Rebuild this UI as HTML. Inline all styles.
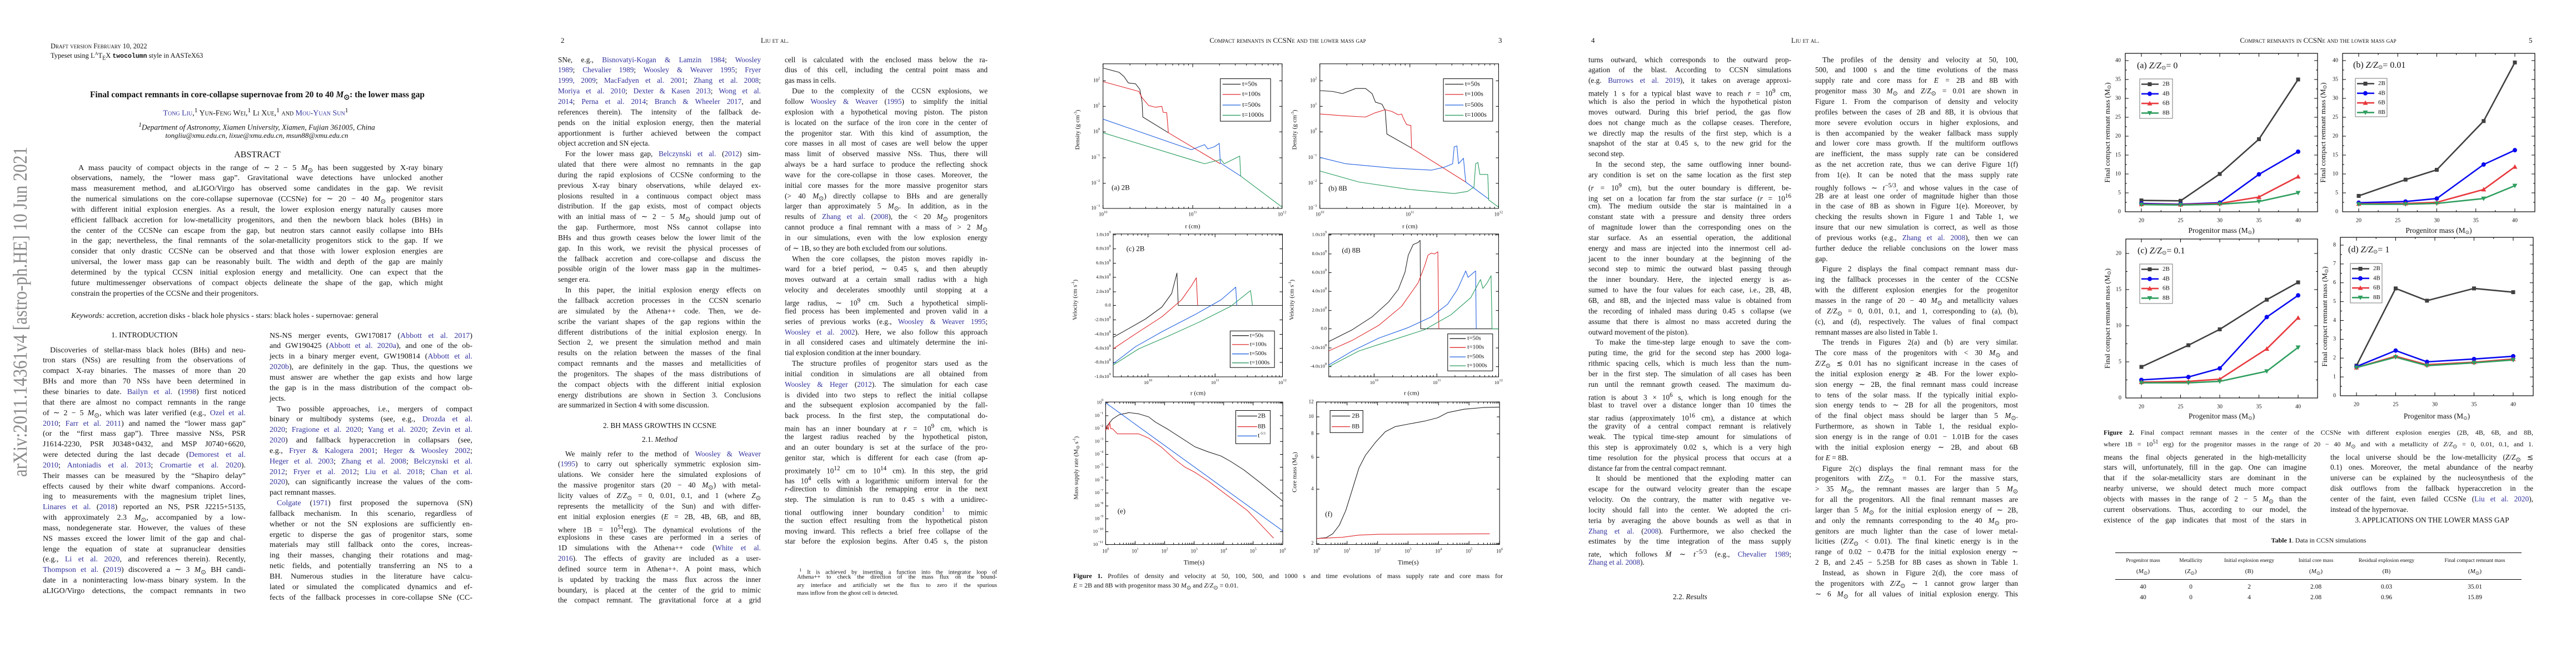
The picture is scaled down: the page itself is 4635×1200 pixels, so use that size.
<!DOCTYPE html>
<html><head><meta charset="utf-8">
<style>
body{margin:0;width:4635px;height:1200px;background:#fff;overflow:hidden;position:relative;font-family:"Liberation Serif",serif;color:#111}
.pg{position:absolute;top:0;width:927px;height:1200px;overflow:hidden}
.a{position:absolute;white-space:nowrap}
.c{position:absolute;white-space:nowrap;transform:translateX(-50%)}
.col{position:absolute;width:365px;font-size:13.3px;line-height:18.85px}
.col div{white-space:nowrap;text-align:justify;text-align-last:justify;height:18.85px}
.col div.l{text-align-last:left}
.col div.i{text-indent:13px}
.b{color:#33339e}
.sc{font-variant:small-caps}
svg{position:absolute;left:0;top:0}
svg text{font-family:"Liberation Serif",serif;fill:#111}
</style></head><body>

<!-- PAGE 1 -->
<div class="pg" style="left:0">
<svg width="80" height="1200"><text transform="translate(48,858) rotate(-90)" textLength="594" lengthAdjust="spacingAndGlyphs" font-size="36" style="fill:#8a8a8a">arXiv:2011.14361v4  [astro-ph.HE]  10 Jun 2021</text></svg>
<div class="a sc" style="left:91px;top:76px;font-size:12.5px">Draft version February 10, 2022</div>
<div class="a" style="left:91px;top:92px;font-size:12.5px">Typeset using L<sup style="font-size:8px">A</sup>T<sub style="font-size:10px">E</sub>X <b style="font-family:'Liberation Mono',monospace;font-size:11.5px">twocolumn</b> style in AASTeX63</div>
<div class="c" style="left:463px;top:162px;font-size:15.5px;font-weight:bold">Final compact remnants in core-collapse supernovae from 20 to 40 <i>M</i><sub>⊙</sub>: the lower mass gap</div>
<div class="c sc" style="left:460px;top:192px;font-size:14px"><span class="b">Tong Liu</span>,<sup>1</sup> Yun-Feng Wei,<sup>1</sup> Li Xue,<sup>1</sup> and <span class="b">Mou-Yuan Sun</span><sup>1</sup></div>
<div class="c" style="left:462px;top:219px;font-size:13.5px;font-style:italic"><sup>1</sup>Department of Astronomy, Xiamen University, Xiamen, Fujian 361005, China</div>
<div class="c" style="left:462px;top:236px;font-size:13px;font-style:italic">tongliu@xmu.edu.cn, lixue@xmu.edu.cn, msun88@xmu.edu.cn</div>
<div class="c" style="left:463px;top:270px;font-size:16px">ABSTRACT</div>
<div class="col" style="left:128px;top:293.5px;width:669px;font-size:14px">
<div class="i">A mass paucity of compact objects in the range of ∼ 2 − 5 <i>M</i><sub>⊙</sub> has been suggested by X-ray binary</div>
<div>observations, namely, the “lower mass gap”. Gravitational wave detections have unlocked another</div>
<div>mass measurement method, and aLIGO/Virgo has observed some candidates in the gap. We revisit</div>
<div>the numerical simulations on the core-collapse supernovae (CCSNe) for ∼ 20 − 40 <i>M</i><sub>⊙</sub> progenitor stars</div>
<div>with different initial explosion energies. As a result, the lower explosion energy naturally causes more</div>
<div>efficient fallback accretion for low-metallicity progenitors, and then the newborn black holes (BHs) in</div>
<div>the center of the CCSNe can escape from the gap, but neutron stars cannot easily collapse into BHs</div>
<div>in the gap; nevertheless, the final remnants of the solar-metallicity progenitors stick to the gap. If we</div>
<div>consider that only drastic CCSNe can be observed and that those with lower explosion energies are</div>
<div>universal, the lower mass gap can be reasonably built. The width and depth of the gap are mainly</div>
<div>determined by the typical CCSN initial explosion energy and metallicity. One can expect that the</div>
<div>future multimessenger observations of compact objects delineate the shape of the gap, which might</div>
<div class="l">constrain the properties of the CCSNe and their progenitors.</div>
</div>
<div class="a" style="left:128px;top:561px;font-size:14px"><i>Keywords:</i> accretion, accretion disks - black hole physics - stars: black holes - supernovae: general</div>
<div class="c" style="left:260px;top:596px;font-size:14px">1. INTRODUCTION</div>
<div class="col" style="left:77px;top:621.6px;font-size:14px">
<div class="i">Discoveries of stellar-mass black holes (BHs) and neu-</div>
<div>tron stars (NSs) are resulting from the observations of</div>
<div>compact X-ray binaries. The masses of more than 20</div>
<div>BHs and more than 70 NSs have been determined in</div>
<div>these binaries to date. <span class="b">Bailyn et al.</span> (<span class="b">1998</span>) first noticed</div>
<div>that there are almost no compact remnants in the range</div>
<div>of ∼ 2 − 5 <i>M</i><sub>⊙</sub>, which was later verified (e.g., <span class="b">Ozel et al.</span></div>
<div><span class="b">2010</span>; <span class="b">Farr et al. 2011</span>) and named the “lower mass gap”</div>
<div>(or the “first mass gap”). Three massive NSs, PSR</div>
<div>J1614-2230, PSR J0348+0432, and MSP J0740+6620,</div>
<div>were detected during the last decade (<span class="b">Demorest et al.</span></div>
<div><span class="b">2010</span>; <span class="b">Antoniadis et al. 2013</span>; <span class="b">Cromartie et al. 2020</span>).</div>
<div>Their masses can be measured by the “Shapiro delay”</div>
<div>effects caused by their white dwarf companions. Accord-</div>
<div>ing to measurements with the magnesium triplet lines,</div>
<div><span class="b">Linares et al.</span> (<span class="b">2018</span>) reported an NS, PSR J2215+5135,</div>
<div>with approximately 2.3 <i>M</i><sub>⊙</sub>, accompanied by a low-</div>
<div>mass, nondegenerate star. However, the values of these</div>
<div>NS masses exceed the lower limit of the gap and chal-</div>
<div>lenge the equation of state at supranuclear densities</div>
<div>(e.g., <span class="b">Li et al. 2020</span>, and references therein). Recently,</div>
<div><span class="b">Thompson et al.</span> (<span class="b">2019</span>) discovered a ∼ 3 <i>M</i><sub>⊙</sub> BH candi-</div>
<div>date in a noninteracting low-mass binary system. In the</div>
<div>aLIGO/Virgo detections, the compact remnants in two</div>
</div>
<div class="col" style="left:485px;top:595.6px;font-size:14px">
<div>NS-NS merger events, GW170817 (<span class="b">Abbott et al. 2017</span>)</div>
<div>and GW190425 (<span class="b">Abbott et al. 2020a</span>), and one of the ob-</div>
<div>jects in a binary merger event, GW190814 (<span class="b">Abbott et al.</span></div>
<div><span class="b">2020b</span>), are definitely in the gap. Thus, the questions we</div>
<div>must answer are whether the gap exists and how large</div>
<div>the gap is in the mass distribution of the compact ob-</div>
<div class="l">jects.</div>
<div class="i">Two possible approaches, i.e., mergers of compact</div>
<div>binary or multibody systems (see, e.g., <span class="b">Drozda et al.</span></div>
<div><span class="b">2020</span>; <span class="b">Fragione et al. 2020</span>; <span class="b">Yang et al. 2020</span>; <span class="b">Zevin et al.</span></div>
<div><span class="b">2020</span>) and fallback hyperaccretion in collapsars (see,</div>
<div>e.g., <span class="b">Fryer &amp; Kalogera 2001</span>; <span class="b">Heger &amp; Woosley 2002</span>;</div>
<div><span class="b">Heger et al. 2003</span>; <span class="b">Zhang et al. 2008</span>; <span class="b">Belczynski et al.</span></div>
<div><span class="b">2012</span>; <span class="b">Fryer et al. 2012</span>; <span class="b">Liu et al. 2018</span>; <span class="b">Chan et al.</span></div>
<div><span class="b">2020</span>), can significantly increase the values of the com-</div>
<div class="l">pact remnant masses.</div>
<div class="i"><span class="b">Colgate</span> (<span class="b">1971</span>) first proposed the supernova (SN)</div>
<div>fallback mechanism. In this scenario, regardless of</div>
<div>whether or not the SN explosions are sufficiently en-</div>
<div>ergetic to disperse the gas of progenitor stars, some</div>
<div>materials may still fallback onto the cores, increas-</div>
<div>ing their masses, changing their rotations and mag-</div>
<div>netic fields, and potentially transferring an NS to a</div>
<div>BH. Numerous studies in the literature have calcu-</div>
<div>lated or simulated the complicated dynamics and ef-</div>
<div>fects of the fallback processes in core-collapse SNe (CC-</div>
</div>
</div>

<!-- PAGE 2 -->
<div class="pg" style="left:927px">
<div class="a" style="left:82px;top:65px;font-size:13px">2</div>
<div class="c sc" style="left:467px;top:65px;font-size:13px">Liu et al.</div>
<div class="col" style="left:77px;top:98.6px">
<div>SNe, e.g., <span class="b">Bisnovatyi-Kogan &amp; Lamzin 1984</span>; <span class="b">Woosley</span></div>
<div><span class="b">1989</span>; <span class="b">Chevalier 1989</span>; <span class="b">Woosley &amp; Weaver 1995</span>; <span class="b">Fryer</span></div>
<div><span class="b">1999, 2009</span>; <span class="b">MacFadyen et al. 2001</span>; <span class="b">Zhang et al. 2008</span>;</div>
<div><span class="b">Moriya et al. 2010</span>; <span class="b">Dexter &amp; Kasen 2013</span>; <span class="b">Wong et al.</span></div>
<div><span class="b">2014</span>; <span class="b">Perna et al. 2014</span>; <span class="b">Branch &amp; Wheeler 2017</span>, and</div>
<div>references therein). The intensity of the fallback de-</div>
<div>pends on the initial explosion energy, then the material</div>
<div>apportionment is further achieved between the compact</div>
<div class="l">object accretion and SN ejecta.</div>
<div class="i">For the lower mass gap, <span class="b">Belczynski et al.</span> (<span class="b">2012</span>) sim-</div>
<div>ulated that there were almost no remnants in the gap</div>
<div>during the rapid explosions of CCSNe conforming to the</div>
<div>previous X-ray binary observations, while delayed ex-</div>
<div>plosions resulted in a continuous compact object mass</div>
<div>distribution. If the gap exists, most of compact objects</div>
<div>with an initial mass of ∼ 2 − 5 <i>M</i><sub>⊙</sub> should jump out of</div>
<div>the gap. Furthermore, most NSs cannot collapse into</div>
<div>BHs and thus growth ceases below the lower limit of the</div>
<div>gap. In this work, we revisit the physical processes of</div>
<div>the fallback accretion and core-collapse and discuss the</div>
<div>possible origin of the lower mass gap in the multimes-</div>
<div class="l">senger era.</div>
<div class="i">In this paper, the initial explosion energy effects on</div>
<div>the fallback accretion processes in the CCSN scenario</div>
<div>are simulated by the Athena++ code. Then, we de-</div>
<div>scribe the variant shapes of the gap regions within the</div>
<div>different distributions of the initial explosion energy. In</div>
<div>Section 2, we present the simulation method and main</div>
<div>results on the relation between the masses of the final</div>
<div>compact remnants and the masses and metallicities of</div>
<div>the progenitors. The shapes of the mass distributions of</div>
<div>the compact objects with the different initial explosion</div>
<div>energy distributions are shown in Section 3. Conclusions</div>
<div class="l">are summarized in Section 4 with some discussion.</div>
</div>
<div class="c" style="left:260px;top:758px;font-size:13.3px">2. BH MASS GROWTHS IN CCSNE</div>
<div class="c" style="left:260px;top:783px;font-size:13.3px">2.1. <i>Method</i></div>
<div class="col" style="left:77px;top:807.6px">
<div class="i">We mainly refer to the method of <span class="b">Woosley &amp; Weaver</span></div>
<div>(<span class="b">1995</span>) to carry out spherically symmetric explosion sim-</div>
<div>ulations. We consider here the simulated explosions of</div>
<div>the massive progenitor stars (20 − 40 <i>M</i><sub>⊙</sub>) with metal-</div>
<div>licity values of <i>Z</i>/<i>Z</i><sub>⊙</sub> = 0, 0.01, 0.1, and 1 (where <i>Z</i><sub>⊙</sub></div>
<div>represents the metallicity of the Sun) and with differ-</div>
<div>ent initial explosion energies (<i>E</i> = 2B, 4B, 6B, and 8B,</div>
<div>where 1B = 10<sup>51</sup>erg). The dynamical evolutions of the</div>
<div>explosions in these cases are performed in a series of</div>
<div>1D simulations with the Athena++ code (<span class="b">White et al.</span></div>
<div><span class="b">2016</span>). The effects of gravity are included as a user-</div>
<div>defined source term in Athena++. A point mass, which</div>
<div>is updated by tracking the mass flux across the inner</div>
<div>boundary, is placed at the center of the grid to mimic</div>
<div>the compact remnant. The gravitational force at a grid</div>
</div>
<div class="col" style="left:485px;top:98.6px">
<div>cell is calculated with the enclosed mass below the ra-</div>
<div>dius of this cell, including the central point mass and</div>
<div class="l">gas mass in cells.</div>
<div class="i">Due to the complexity of the CCSN explosions, we</div>
<div>follow <span class="b">Woosley &amp; Weaver</span> (<span class="b">1995</span>) to simplify the initial</div>
<div>explosion with a hypothetical moving piston. The piston</div>
<div>is located on the surface of the iron core in the center of</div>
<div>the progenitor star. With this kind of assumption, the</div>
<div>core masses in all most of cases are well below the upper</div>
<div>mass limit of observed massive NSs. Thus, there will</div>
<div>always be a hard surface to produce the reflecting shock</div>
<div>wave for the core-collapse in those cases. Moreover, the</div>
<div>initial core masses for the more massive progenitor stars</div>
<div>(&gt; 40 <i>M</i><sub>⊙</sub>) directly collapse to BHs and are generally</div>
<div>larger than approximately 5 <i>M</i><sub>⊙</sub>. In addition, as in the</div>
<div>results of <span class="b">Zhang et al.</span> (<span class="b">2008</span>), the &lt; 20 <i>M</i><sub>⊙</sub> progenitors</div>
<div>cannot produce a final remnant with a mass of &gt; 2 <i>M</i><sub>⊙</sub></div>
<div>in our simulations, even with the low explosion energy</div>
<div class="l">of ∼ 1B, so they are both excluded from our solutions.</div>
<div class="i">When the core collapses, the piston moves rapidly in-</div>
<div>ward for a brief period, ∼ 0.45 s, and then abruptly</div>
<div>moves outward at a certain small radius with a high</div>
<div>velocity and decelerates smoothly until stopping at a</div>
<div>large radius, ∼ 10<sup>9</sup> cm. Such a hypothetical simpli-</div>
<div>fied process has been implemented and proven valid in a</div>
<div>series of previous works (e.g., <span class="b">Woosley &amp; Weaver 1995</span>;</div>
<div><span class="b">Woosley et al. 2002</span>). Here, we also follow this approach</div>
<div>in all considered cases and ultimately determine the ini-</div>
<div class="l">tial explosion condition at the inner boundary.</div>
<div class="i">The structure profiles of progenitor stars used as the</div>
<div>initial condition in simulations are all obtained from</div>
<div><span class="b">Woosley &amp; Heger</span> (<span class="b">2012</span>). The simulation for each case</div>
<div>is divided into two steps to reflect the initial collapse</div>
<div>and the subsequent explosion accompanied by the fall-</div>
<div>back process. In the first step, the computational do-</div>
<div>main has an inner boundary at <i>r</i> = 10<sup>9</sup> cm, which is</div>
<div>the largest radius reached by the hypothetical piston,</div>
<div>and an outer boundary is set at the surface of the pro-</div>
<div>genitor star, which is different for each case (from ap-</div>
<div>proximately 10<sup>12</sup> cm to 10<sup>14</sup> cm). In this step, the grid</div>
<div>has 10<sup>4</sup> cells with a logarithmic uniform interval for the</div>
<div><i>r</i>-direction to diminish the remapping error in the next</div>
<div>step. The simulation is run to 0.45 s with a unidirec-</div>
<div>tional outflowing inner boundary condition<sup class="b">1</sup> to mimic</div>
<div>the suction effect resulting from the hypothetical piston</div>
<div>moving inward. This reflects a brief free collapse of the</div>
<div>star before the explosion begins. After 0.45 s, the piston</div>
</div>
<div class="col" style="left:498px;top:1018px;width:369px;font-size:10.5px;line-height:14.3px">
<div class="i" style="height:14.3px"><sup>1</sup> It is achieved by inserting a function into the integrator loop of</div>
<div style="height:14.3px;padding-left:9px">Athena++ to check the direction of the mass flux on the bound-</div>
<div style="height:14.3px;padding-left:9px">ary interface and artificially set the flux to zero if the spurious</div>
<div class="l" style="height:14.3px;padding-left:9px">mass inflow from the ghost cell is detected.</div>
</div>
</div>

<!-- PAGE 3 -->
<div class="pg" style="left:1854px">
<div class="c sc" style="left:463px;top:65px;font-size:13px">Compact remnants in CCSNe and the lower mass gap</div>
<div class="a" style="left:842px;top:65px;font-size:13px">3</div>
<svg id="f3" width="927" height="1200"></svg>
<div class="col" style="left:77px;top:1028px;width:773px;font-size:12px;line-height:17px">
<div style="height:17px"><b>Figure 1.</b> Profiles of density and velocity at 50, 100, 500, and 1000 s and time evolutions of mass supply rate and core mass for</div>
<div class="l" style="height:17px"><i>E</i> = 2B and 8B with progenitor mass 30 <i>M</i><sub>⊙</sub> and <i>Z</i>/<i>Z</i><sub>⊙</sub> = 0.01.</div>
</div>
</div>

<!-- PAGE 4 -->
<div class="pg" style="left:2781px">
<div class="a" style="left:82px;top:65px;font-size:13px">4</div>
<div class="c sc" style="left:467px;top:65px;font-size:13px">Liu et al.</div>
<div class="col" style="left:77px;top:98.6px">
<div>turns outward, which corresponds to the outward prop-</div>
<div>agation of the blast. According to CCSN simulations</div>
<div>(e.g. <span class="b">Burrows et al. 2019</span>), it takes on average approxi-</div>
<div>mately 1 s for a typical blast wave to reach <i>r</i> = 10<sup>9</sup> cm,</div>
<div>which is also the period in which the hypothetical piston</div>
<div>moves outward. During this brief period, the gas flow</div>
<div>does not change much as the collapse ceases. Therefore,</div>
<div>we directly map the results of the first step, which is a</div>
<div>snapshot of the star at 0.45 s, to the new grid for the</div>
<div class="l">second step.</div>
<div class="i">In the second step, the same outflowing inner bound-</div>
<div>ary condition is set on the same location as the first step</div>
<div>(<i>r</i> = 10<sup>9</sup> cm), but the outer boundary is different, be-</div>
<div>ing set on a location far from the star surface (<i>r</i> = 10<sup>16</sup></div>
<div>cm). The medium outside the star is maintained in a</div>
<div>constant state with a pressure and density three orders</div>
<div>of magnitude lower than the corresponding ones on the</div>
<div>star surface. As an essential operation, the additional</div>
<div>energy and mass are injected into the innermost cell ad-</div>
<div>jacent to the inner boundary at the beginning of the</div>
<div>second step to mimic the outward blast passing through</div>
<div>the inner boundary. Here, the injected energy is as-</div>
<div>sumed to have the four values for each case, i.e., 2B, 4B,</div>
<div>6B, and 8B, and the injected mass value is obtained from</div>
<div>the recording of inhaled mass during 0.45 s collapse (we</div>
<div>assume that there is almost no mass accreted during the</div>
<div class="l">outward movement of the piston).</div>
<div class="i">To make the time-step large enough to save the com-</div>
<div>puting time, the grid for the second step has 2000 loga-</div>
<div>rithmic spacing cells, which is much less than the num-</div>
<div>ber in the first step. The simulation of all cases has been</div>
<div>run until the remnant growth ceased. The maximum du-</div>
<div>ration is about 3 × 10<sup>6</sup> s, which is long enough for the</div>
<div>blast to travel over a distance longer than 10 times the</div>
<div>star radius (approximately 10<sup>16</sup> cm), a distance at which</div>
<div>the gravity of a central compact remnant is relatively</div>
<div>weak. The typical time-step amount for simulations of</div>
<div>this step is approximately 0.02 s, which is a very high</div>
<div>time resolution for the physical process that occurs at a</div>
<div class="l">distance far from the central compact remnant.</div>
<div class="i">It should be mentioned that the exploding matter can</div>
<div>escape for the outward velocity greater than the escape</div>
<div>velocity. On the contrary, the matter with negative ve-</div>
<div>locity should fall into the center. We adopted the cri-</div>
<div>teria by averaging the above bounds as well as that in</div>
<div><span class="b">Zhang et al.</span> (<span class="b">2008</span>). Furthermore, we also checked the</div>
<div>estimates by the time integration of the mass supply</div>
<div>rate, which follows <i>Ṁ</i> ∼ <i>t</i><sup>−5/3</sup> (e.g., <span class="b">Chevalier 1989</span>;</div>
<div class="l"><span class="b">Zhang et al. 2008</span>).</div>
</div>
<div class="c" style="left:260px;top:1066px;font-size:13.3px">2.2. <i>Results</i></div>
<div class="col" style="left:485px;top:98.6px">
<div class="i">The profiles of the density and velocity at 50, 100,</div>
<div>500, and 1000 s and the time evolutions of the mass</div>
<div>supply rate and core mass for <i>E</i> = 2B and 8B with</div>
<div>progenitor mass 30 <i>M</i><sub>⊙</sub> and <i>Z</i>/<i>Z</i><sub>⊙</sub> = 0.01 are shown in</div>
<div>Figure 1. From the comparison of density and velocity</div>
<div>profiles between the cases of 2B and 8B, it is obvious that</div>
<div>more severe evolution occurs in higher explosions, and</div>
<div>is then accompanied by the weaker fallback mass supply</div>
<div>and lower core mass growth. If the multiform outflows</div>
<div>are inefficient, the mass supply rate can be considered</div>
<div>as the net accretion rate, thus we can derive Figure 1(f)</div>
<div>from 1(e). It can be noted that the mass supply rate</div>
<div>roughly follows ∼ <i>t</i><sup>−5/3</sup>, and whose values in the case of</div>
<div>2B are at least one order of magnitude higher than those</div>
<div>in the case of 8B as shown in Figure 1(e). Moreover, by</div>
<div>checking the results shown in Figure 1 and Table 1, we</div>
<div>insure that our new simulation is correct, as well as those</div>
<div>of previous works (e.g., <span class="b">Zhang et al. 2008</span>), then we can</div>
<div>further deduce the reliable conclusions on the lower mass</div>
<div class="l">gap.</div>
<div class="i">Figure 2 displays the final compact remnant mass dur-</div>
<div>ing the fallback processes in the center of the CCSNe</div>
<div>with the different explosion energies for the progenitor</div>
<div>masses in the range of 20 − 40 <i>M</i><sub>⊙</sub> and metallicity values</div>
<div>of <i>Z</i>/<i>Z</i><sub>⊙</sub> = 0, 0.01, 0.1, and 1, corresponding to (a), (b),</div>
<div>(c), and (d), respectively. The values of final compact</div>
<div class="l">remnant masses are also listed in Table 1.</div>
<div class="i">The trends in Figures 2(a) and (b) are very similar.</div>
<div>The core mass of the progenitors with &lt; 30 <i>M</i><sub>⊙</sub> and</div>
<div><i>Z</i>/<i>Z</i><sub>⊙</sub> ≲ 0.01 has no significant increase in the cases of</div>
<div>the initial explosion energy ≳ 4B. For the lower explo-</div>
<div>sion energy ∼ 2B, the final remnant mass could increase</div>
<div>to tens of the solar mass. If the typically initial explo-</div>
<div>sion energy tends to ∼ 2B for all the progenitors, most</div>
<div>of the final object mass should be larger than 5 <i>M</i><sub>⊙</sub>.</div>
<div>Furthermore, as shown in Table 1, the residual explo-</div>
<div>sion energy is in the range of 0.01 − 1.01B for the cases</div>
<div>with the initial explosion energy ∼ 2B, and about 6B</div>
<div class="l">for <i>E</i> = 8B.</div>
<div class="i">Figure 2(c) displays the final remnant mass for the</div>
<div>progenitors with <i>Z</i>/<i>Z</i><sub>⊙</sub> = 0.1. For the massive stars,</div>
<div>&gt; 35 <i>M</i><sub>⊙</sub>, the remnant masses are larger than 5 <i>M</i><sub>⊙</sub></div>
<div>for all the progenitors. All the final remnant masses are</div>
<div>larger than 5 <i>M</i><sub>⊙</sub> for the initial explosion energy of ∼ 2B,</div>
<div>and only the remnants corresponding to the 40 <i>M</i><sub>⊙</sub> pro-</div>
<div>genitors are much lighter than the case of lower metal-</div>
<div>licities (<i>Z</i>/<i>Z</i><sub>⊙</sub> &lt; 0.01). The final kinetic energy is in the</div>
<div>range of 0.02 − 0.47B for the initial explosion energy ∼</div>
<div>2 B, and 2.45 − 5.25B for 8B cases as shown in Table 1.</div>
<div class="i">Instead, as shown in Figure 2(d), the core mass of</div>
<div>the progenitors with <i>Z</i>/<i>Z</i><sub>⊙</sub> ∼ 1 cannot grow larger than</div>
<div>∼ 6 <i>M</i><sub>⊙</sub> for all values of initial explosion energy. This</div>
</div>
</div>

<!-- PAGE 5 -->
<div class="pg" style="left:3708px">
<div class="c sc" style="left:463px;top:65px;font-size:13px">Compact remnants in CCSNe and the lower mass gap</div>
<div class="a" style="left:842px;top:65px;font-size:13px">5</div>
<svg id="f5" width="927" height="1200"></svg>
<div class="col" style="left:77px;top:770px;width:773px;font-size:12px;line-height:17px">
<div style="height:17px"><b>Figure 2.</b> Final compact remnant masses in the center of the CCSNe with different explosion energies (2B, 4B, 6B, and 8B,</div>
<div style="height:17px">where 1B = 10<sup>51</sup> erg) for the progenitor masses in the range of 20 − 40 <i>M</i><sub>⊙</sub> and with a metallicity of <i>Z</i>/<i>Z</i><sub>⊙</sub> = 0, 0.01, 0.1, and 1.</div>
</div>
<div class="col" style="left:77px;top:813.6px">
<div>means the final objects generated in the high-metallicity</div>
<div>stars will, unfortunately, fill in the gap. One can imagine</div>
<div>that if the solar-metallicity stars are dominant in the</div>
<div>nearby universe, we should detect much more compact</div>
<div>objects with masses in the range of 2 − 5 <i>M</i><sub>⊙</sub> than the</div>
<div>current observations. Thus, according to our model, the</div>
<div>existence of the gap indicates that most of the stars in</div>
</div>
<div class="col" style="left:485px;top:813.6px">
<div>the local universe should be the low-metallicity (<i>Z</i>/<i>Z</i><sub>⊙</sub> ≲</div>
<div>0.1) ones. Moreover, the metal abundance of the nearby</div>
<div>universe can be explained by the nucleosynthesis of the</div>
<div>disk outflows from the fallback hyperaccretion in the</div>
<div>center of the faint, even failed CCSNe (<span class="b">Liu et al. 2020</span>),</div>
<div class="l">instead of the hypernovae.</div>
</div>
<div class="c" style="left:668px;top:928px;font-size:13.3px">3. APPLICATIONS ON THE LOWER MASS GAP</div>
<div class="c" style="left:464px;top:965px;font-size:12px"><b>Table 1</b>. Data in CCSN simulations</div>
<div class="a" style="left:98px;top:994px;width:731px;border-top:1.3px solid #000"></div>
<div class="a" style="left:98px;top:1042px;width:731px;border-top:1px solid #000"></div>
<div id="tbl"></div>
</div>

<script>
(function(){
const S=x=>x/1.6915, T=y=>y/1.3067;
let s='';
function box(x1,y1,x2,y2){s+=`<rect x="${S(x1).toFixed(1)}" y="${T(y1).toFixed(1)}" width="${(S(x2)-S(x1)).toFixed(1)}" height="${(T(y2)-T(y1)).toFixed(1)}" fill="none" stroke="#000" stroke-width="1"/>`;}
function line(a,c,w){let p=[];for(let i=0;i<a.length;i+=2)p.push(S(a[i]).toFixed(1)+','+T(a[i+1]).toFixed(1));s+=`<polyline points="${p.join(' ')}" fill="none" stroke="${c}" stroke-width="${w||1.1}" stroke-linejoin="round"/>`;}
function tx(x,y,t,size,anchor,extra){s+=`<text x="${S(x).toFixed(1)}" y="${T(y).toFixed(1)}" font-size="${size}" text-anchor="${anchor||'start'}" dominant-baseline="middle" ${extra||''}>${t}</text>`;}
function rot(x,y,t,size){s+=`<text transform="translate(${S(x).toFixed(1)},${T(y).toFixed(1)}) rotate(-90)" font-size="${size}" text-anchor="middle" dominant-baseline="middle">${t}</text>`;}
function sup(b,e){return b+`<tspan dy="-4" font-size="6.5">${e}</tspan>`;}
function ticksY(x1,x2,ys){ys.forEach(y=>{s+=`<line x1="${S(x1)}" y1="${T(y)}" x2="${S(x1)+5}" y2="${T(y)}" stroke="#000"/><line x1="${S(x2)}" y1="${T(y)}" x2="${S(x2)-5}" y2="${T(y)}" stroke="#000"/>`;});}
function ticksX(y1,y2,xs,l){l=l||5;xs.forEach(x=>{s+=`<line x1="${S(x)}" y1="${T(y2)}" x2="${S(x)}" y2="${T(y2)-l}" stroke="#000"/><line x1="${S(x)}" y1="${T(y1)}" x2="${S(x)}" y2="${T(y1)+l}" stroke="#000"/>`;});}
function logminor(a,b,dec){let r=[];const w=(b-a)/dec;for(let d=0;d<dec;d++)for(let k=2;k<10;k++)r.push(a+w*(d+Math.log10(k)));return r;}
function legend(x1,y1,x2,y2,ent,lx1,lx2,txx,fs){box(x1,y1,x2,y2);ent.forEach(e=>{line([lx1,e[2],lx2,e[2]],e[1],1.3);tx(txx,e[2],e[0],fs||12);});}
const K='#222',R='#e0262a',B='#1f5fe0',G='#249a5a';
// (a)
box(221,150,766,490);
ticksY(221,766,[190,250,310,371,431,490]);ticksX(150,490,[221,494,766],6);ticksX(150,490,logminor(221,766,2),3);
line([221,160,270,170,285,180,298,195,320,197,333,210,340,240,342,275,420,312],K);
line([221,192,330,215,340,230,360,248,380,252,400,250,404,264,415,265,420,312,578,385],R);
line([221,280,490,352,530,340,540,350,560,345,575,337,578,383,640,414],B);
line([221,312,530,385,580,375,590,385,637,367,640,414,766,487],G);
legend(578,185,731,285,[['t=50s',K,198],['t=100s',R,222],['t=500s',B,247],['t=1000s',G,271]],585,640,645,12);
[['2',190],['1',250],['0',310],['−1',371],['−2',431],['−3',490]].forEach(v=>tx(212,v[1],sup('10',v[0]),9,'end'));
[[221,'10'],[494,'11'],[766,'12']].forEach(v=>tx(v[0],505,sup('10',v[1]),9,'middle'));
tx(494,533,'r (cm)',11,'middle');rot(145,305,'Density (g cm<tspan dy="-4" font-size="7">-3</tspan><tspan dy="4">)</tspan>',11);
tx(247,442,'(a) 2B',13);
// (b)
box(881,150,1425,490);
ticksY(881,1425,[190,250,310,371,431,490]);ticksX(150,490,[881,1155,1425],6);ticksX(150,490,logminor(881,1425,2),3);
line([881,213,920,215,950,220,990,208,1020,208,1040,220,1050,240,1070,245,1080,260,1085,315,1160,348],K);
line([881,268,950,272,1020,275,1050,265,1080,258,1100,262,1120,270,1130,268,1135,278,1145,293,1158,295,1160,348,1325,428],R);
line([881,370,960,385,1100,395,1220,400,1260,393,1285,385,1290,345,1298,343,1303,385,1318,372,1325,428,1395,468],B);
line([881,402,1000,428,1150,445,1290,455,1330,450,1350,440,1355,385,1362,382,1368,410,1392,410,1395,470,1425,487],G);
legend(1257,185,1407,285,[['t=50s',K,198],['t=100s',R,222],['t=500s',B,247],['t=1000s',G,271]],1262,1318,1323,12);
[['2',190],['1',250],['0',310],['−1',371],['−2',431],['−3',490]].forEach(v=>tx(872,v[1],sup('10',v[0]),9,'end'));
[[881,'10'],[1155,'11'],[1425,'12']].forEach(v=>tx(v[0],505,sup('10',v[1]),9,'middle'));
tx(1155,533,'r (cm)',11,'middle');rot(805,305,'Density (g cm<tspan dy="-4" font-size="7">-3</tspan><tspan dy="4">)</tspan>',11);
tx(907,444,'(b) 8B',13);
// (c)
box(252,550,767,886);
const cy=[552,585,619,652,686,718,752,786,819,852,886];
ticksY(252,767,cy);ticksX(550,886,[358,562,767],6);ticksX(550,886,logminor(154,767,3).filter(x=>x>252),3);
line([252,793,300,772,350,750,400,722,430,690,440,660,446,642,450,718,767,718],K);
line([252,820,320,785,400,745,460,705,490,672,505,653,509,718],R);
line([252,855,320,815,400,780,500,740,580,705,625,675,628,718],B);
line([252,858,330,820,420,790,520,755,610,720,670,683,676,718],G);
legend(608,778,743,864,[['t=50s',K,789],['t=100s',R,810],['t=500s',B,832],['t=1000s',G,853]],614,665,668,11);
const cl=['1.0x10<tspan dy="-4" font-size="6.5">9</tspan>','8.0x10<tspan dy="-4" font-size="6.5">8</tspan>','6.0x10<tspan dy="-4" font-size="6.5">8</tspan>','4.0x10<tspan dy="-4" font-size="6.5">8</tspan>','2.0x10<tspan dy="-4" font-size="6.5">8</tspan>','0.0','-2.0x10<tspan dy="-4" font-size="6.5">8</tspan>','-4.0x10<tspan dy="-4" font-size="6.5">8</tspan>','-6.0x10<tspan dy="-4" font-size="6.5">8</tspan>','-8.0x10<tspan dy="-4" font-size="6.5">8</tspan>','-1.0x10<tspan dy="-4" font-size="6.5">9</tspan>'];
cy.forEach((y,i)=>tx(245,y,cl[i],8.5,'end'));
[[358,'10'],[562,'11'],[767,'12']].forEach(v=>tx(v[0],900,sup('10',v[1]),8.5,'middle'));
tx(510,925,'r (cm)',11,'middle');rot(137,705,'Velocity (cm s<tspan dy="-4" font-size="7">-1</tspan><tspan dy="4">)</tspan>',11);
tx(292,586,'(c) 2B',13);
// (d)
box(908,550,1425,886);
const dy=[552,597,641,685,730,773,818,862];
ticksY(908,1425,dy);ticksX(550,886,[1046,1237,1425],6);ticksX(550,886,logminor(855,1425,3).filter(x=>x>908),3);
line([908,803,980,775,1040,745,1090,710,1120,680,1140,640,1150,600,1165,575,1180,570,1186,565,1188,773,1425,773],K);
line([908,825,980,800,1060,765,1130,720,1180,665,1200,625,1210,600,1220,595,1230,597,1240,592,1243,773],R);
line([908,858,980,825,1060,795,1150,770,1220,745,1270,715,1300,680,1325,637,1332,652,1350,640,1355,637,1357,773],B);
line([908,862,1000,825,1100,800,1200,775,1280,740,1340,700,1370,657,1377,678,1390,665,1402,648,1405,773,1425,773],G);
legend(1270,785,1407,872,[['t=50s',K,796],['t=100s',R,817],['t=500s',B,839],['t=1000s',G,860]],1276,1325,1330,11);
const dl=[cl[0],cl[1],cl[2],cl[3],cl[4],cl[5],cl[6],cl[7]];
dy.forEach((y,i)=>tx(902,y,dl[i],8.5,'end'));
[[1046,'10'],[1237,'11'],[1425,'12']].forEach(v=>tx(v[0],900,sup('10',v[1]),8.5,'middle'));
tx(1160,925,'r (cm)',11,'middle');rot(797,705,'Velocity (cm s<tspan dy="-4" font-size="7">-1</tspan><tspan dy="4">)</tspan>',11);
tx(948,590,'(d) 8B',13);
// (e)
box(229,945,768,1280);
let ey=[];for(let i=0;i<12;i++)ey.push(947+i*30.3);
ticksY(229,768,ey);let ex=[];for(let i=0;i<7;i++)ex.push(229+i*89.8);ticksX(945,1280,ex,6);ticksX(945,1280,logminor(229,768,6),3);
line([229,1012,235,1000,250,985,270,975,300,970,330,973,360,980,380,992,420,1010,460,1030,500,1050,540,1062,580,1072,610,1085,650,1105,700,1135,768,1178],K);
line([229,1012,233,1000,237,1010,241,992,245,1008,250,1008,265,1020,290,1020,330,1020,360,1030,400,1052,440,1080,470,1098,500,1110,540,1130,600,1165,660,1200,740,1265],R);
line([229,947,768,1248],B);
legend(625,965,730,1043,[['2B',K,978],['8B',R,1003],[sup('t','-5/3'),B,1025]],630,690,692,12);
ey.forEach((y,i)=>tx(222,y,sup('10',i==0?'0':'−'+i),8.5,'end'));
ex.forEach((x,i)=>tx(x,1297,sup('10',''+i),9,'middle'));
tx(498,1323,'Time(s)',12,'middle');rot(140,1100,'Mass supply rate (M<tspan font-size="8" dy="3">⊙</tspan><tspan dy="-3"> s</tspan><tspan dy="-4" font-size="7">-1</tspan><tspan dy="4">)</tspan>',11);
tx(265,1203,'(e)',13);
// (f)
box(871,945,1428,1280);
const fy=[[12,945],[10,980],[8,1020],[6,1075],[4,1150],[2,1278]];
ticksY(871,1428,fy.map(v=>v[1]));let fx=[];for(let i=0;i<7;i++)fx.push(871+i*92.8);ticksX(945,1280,fx,6);ticksX(945,1280,logminor(871,1428,6),3);
line([871,1266,900,1264,920,1255,940,1235,960,1200,980,1150,1000,1100,1020,1070,1050,1040,1080,1015,1110,1003,1150,997,1200,990,1240,982,1270,970,1320,962,1380,958,1428,957],K);
line([871,1266,950,1263,1000,1258,1060,1256,1398,1255],R);
legend(912,965,1012,1017,[['2B',K,978],['8B',R,1003]],917,973,978,12);
fy.forEach(v=>tx(862,v[1],''+v[0],9,'end'));
fx.forEach((x,i)=>tx(x,1297,sup('10',''+i),9,'middle'));
tx(1150,1323,'Time(s)',12,'middle');rot(805,1110,'Core mass (M<tspan font-size="8" dy="3">⊙</tspan><tspan dy="-3">)</tspan>',11);
tx(897,1210,'(f)',13);
document.getElementById('f3').innerHTML=s;

// ===== page 5 =====
let q='';
const C5=['#404040','#0a0af0','#e8383d','#2f9e5f'];
function mk(type,x,y,c){
 if(type==0)return `<rect x="${x-3.5}" y="${y-3.5}" width="7" height="7" fill="${c}"/>`;
 if(type==1)return `<circle cx="${x}" cy="${y}" r="4" fill="${c}"/>`;
 if(type==2)return `<polygon points="${x},${y-4.5} ${x-4.5},${y+3.5} ${x+4.5},${y+3.5}" fill="${c}"/>`;
 return `<polygon points="${x},${y+4.5} ${x-4.5},${y-3.5} ${x+4.5},${y-3.5}" fill="${c}"/>`;
}
function t5(x,y,t,fs,anc,ex){q+=`<text x="${x.toFixed(1)}" y="${y.toFixed(1)}" font-size="${fs}" text-anchor="${anc||'start'}" dominant-baseline="middle" ${ex||''}>${t}</text>`;}
function panel(o){
 const X=v=>o.x20+(v-20)*(o.x40-o.x20)/20, Y=v=>o.y0-v*(o.y0-o.ytop)/o.ytopv;
 q+=`<rect x="${o.bx1}" y="${o.by1}" width="${o.bx2-o.bx1}" height="${o.by2-o.by1}" fill="none" stroke="#000" stroke-width="1.2"/>`;
 for(let v=20;v<=40;v+=2.5){const x=X(v),l=(v%5==0)?6:3;q+=`<line x1="${x}" y1="${o.by2}" x2="${x}" y2="${o.by2-l}" stroke="#000"/><line x1="${x}" y1="${o.by1}" x2="${x}" y2="${o.by1+l}" stroke="#000"/>`;if(v%5==0)t5(x,o.by2+16,''+v,10,'middle');}
 for(let v=0;v<=o.ymax+1e-9;v+=o.ystep/2){const y=Y(v),maj=Math.abs(v/o.ystep-Math.round(v/o.ystep))<1e-6,l=maj?6:3;if(y<o.by1)continue;q+=`<line x1="${o.bx1}" y1="${y}" x2="${o.bx1+l}" y2="${y}" stroke="#000"/><line x1="${o.bx2}" y1="${y}" x2="${o.bx2-l}" y2="${y}" stroke="#000"/>`;if(maj)t5(o.bx1-8,y,''+Math.round(v),10,'end');}
 o.data.forEach((d,k)=>{let p=d.map((v,i)=>X(o.xs[i]).toFixed(1)+','+Y(v).toFixed(1));q+=`<polyline points="${p.join(' ')}" fill="none" stroke="${C5[k]}" stroke-width="2.6" stroke-linejoin="round"/>`;});
 o.data.forEach((d,k)=>{d.forEach((v,i)=>{q+=mk(k,X(o.xs[i]),Y(v),C5[k]);});});
 // legend
 const L=o.leg;q+=`<rect x="${L[0]}" y="${L[1]}" width="${L[2]-L[0]}" height="${L[3]-L[1]}" fill="#fff" stroke="#777" stroke-width="1"/>`;
 ['2B','4B','6B','8B'].forEach((n,k)=>{const y=L[1]+9.5+k*17.3;q+=`<line x1="${L[0]+3}" y1="${y}" x2="${L[0]+34}" y2="${y}" stroke="${C5[k]}" stroke-width="2.6"/>`+mk(k,L[0]+18,y,C5[k]);t5(L[0]+41,y,n,11);});
 t5(o.lab[0],o.lab[1],o.label,16,'start','font-family="Liberation Serif"');
 q+=`<text transform="translate(${o.yl},${(o.by1+o.by2)/2}) rotate(-90)" font-size="13" text-anchor="middle" dominant-baseline="middle">Final compact remnant mass (M<tspan font-size="9" dy="3">⊙</tspan><tspan dy="-3">)</tspan></text>`;
 t5((o.bx1+o.bx2)/2,o.xt,'Progenitor mass (M<tspan font-size="9" dy="3">⊙</tspan><tspan dy="-3">)</tspan>',13.5,'middle');
}
const lab=(c,v)=>`(${c})  <tspan font-style="italic">Z/Z</tspan><tspan font-size="10" dy="4">⊙</tspan><tspan dy="-4">= ${v}</tspan>`;
panel({bx1:116,by1:96,bx2:462,by2:381,x20:145,x40:427,y0:381,ytop:109,ytopv:40,ymax:40,ystep:5,xs:[20,25,30,35,40],
 data:[[3.0,2.9,10,19.2,35],[2.2,2.0,2.4,9.9,15.9],[2.0,1.9,2.2,3.9,9.3],[1.9,1.8,2.0,2.7,5.0]],
 leg:[142,142,201,213],lab:[137,119],label:lab('a','0'),yl:85,xt:416});
panel({bx1:507,by1:96,bx2:853,by2:381,x20:536,x40:817,y0:381,ytop:109,ytopv:40,ymax:40,ystep:5,xs:[20,26,30,36,40],
 data:[[4.2,8.5,11.1,24,39.5],[2.4,2.7,3.5,12.5,16.3],[2.1,2.2,2.5,5.9,11.9],[2.0,2.0,2.2,3.5,6.9]],
 leg:[530,141,587,210],lab:[526,118],label:lab('b','0.01'),yl:473,xt:416});
panel({bx1:117,by1:430,bx2:462,by2:716,x20:145,x40:427,y0:716,ytop:456,ytopv:20,ymax:22,ystep:5,xs:[20,26,30,36,40],
 data:[[4.3,7.3,9.5,13.6,16.0],[2.5,2.9,4.1,11.2,14.2],[2.2,2.3,2.6,6.8,11.1],[2.1,2.1,2.3,3.7,7.0]],
 leg:[142,475,201,546],lab:[138,452],label:lab('c','0.1'),yl:85,xt:750});
panel({bx1:503,by1:427,bx2:850,by2:712,x20:532,x40:814,y0:712,ytop:441,ytopv:8,ymax:8.4,ystep:1,xs:[20,25,29,35,40],
 data:[[1.6,5.7,5.05,5.7,5.5],[1.55,2.4,1.8,1.95,2.1],[1.5,2.1,1.65,1.78,1.95],[1.5,2.05,1.6,1.75,1.9]],
 leg:[521,474,578,545],lab:[517,450],label:lab('d','1'),yl:476,xt:750});
document.getElementById('f5').innerHTML=q;

// table
const cx=[148,234,339,459,586,745];
const rows=[[1010,['Progenitor mass','Metallicity','Initial explosion energy','Initial core mass','Residual explosion energy','Final compact remnant mass'],9.5],
[1029,['(<i>M</i><sub>⊙</sub>)','(<i>Z</i><sub>⊙</sub>)','(B)','(<i>M</i><sub>⊙</sub>)','(B)','(<i>M</i><sub>⊙</sub>)'],11],
[1057,['40','0','2','2.08','0.03','35.01'],11.5],[1076,['40','0','4','2.08','0.96','15.89'],11.5]];
let h='';rows.forEach(r=>r[1].forEach((t,i)=>{h+=`<div class="c" style="left:${cx[i]}px;top:${r[0]-r[2]*0.6}px;font-size:${r[2]}px">${t}</div>`;}));
document.getElementById('tbl').innerHTML=h;
})();
</script>
</body></html>
